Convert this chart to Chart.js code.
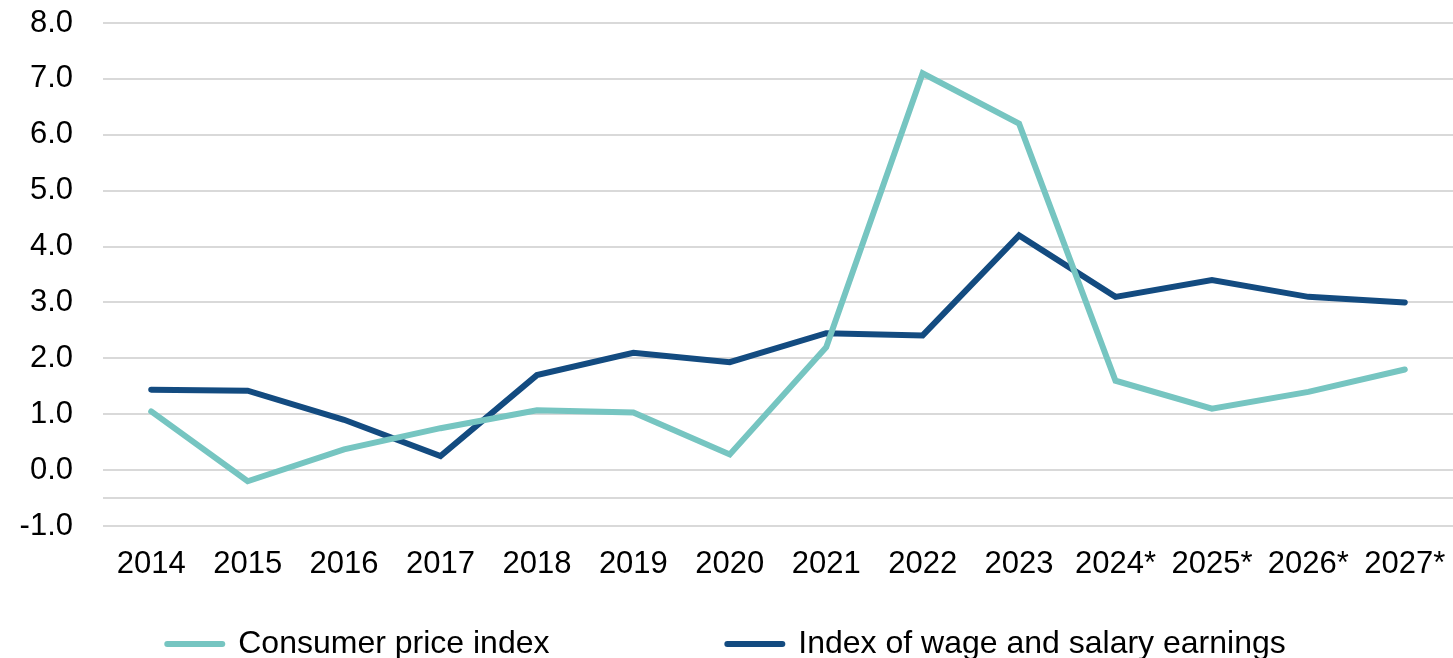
<!DOCTYPE html>
<html>
<head>
<meta charset="utf-8">
<script src="https://cdn.jsdelivr.net/npm/chart.js@4.4.1/dist/chart.umd.min.js"></script>
<style>
  html, body { margin: 0; padding: 0; background: #fff; }
  #wrap { width: 1453px; height: 658px; position: relative; }
</style>
</head>
<body>
<div id="wrap"><canvas id="chart"></canvas></div>
<script>
const years = ["2014", "2015", "2016", "2017", "2018", "2019", "2020", "2021", "2022", "2023", "2024*", "2025*", "2026*", "2027*"];
const cpi = [1.05, -0.2, 0.37, 0.75, 1.07, 1.03, 0.28, 2.2, 7.1, 6.2, 1.6, 1.1, 1.4, 1.8];
const wages = [1.44, 1.42, 0.9, 0.25, 1.7, 2.1, 1.93, 2.45, 2.41, 4.2, 3.1, 3.4, 3.1, 3.0];
const yTicks = [-1, -0.5, 0, 1, 2, 3, 4, 5, 6, 7, 8];

const FONT = "'Liberation Sans', Arial, sans-serif";
// excel-style legend has wide columns, pad first label out with nbsp
const legendGap = "\u00a0".repeat(20);

new Chart(document.getElementById("chart").getContext("2d"), {
  type: "line",
  data: {
    labels: years,
    datasets: [{
      label: "Consumer price index",
      data: cpi,
      borderColor: "#76c5c1",
      backgroundColor: "#76c5c1",
      borderWidth: 6,
      borderCapStyle: "round",
      pointRadius: 0,
      tension: 0,
      fill: false
    }, {
      label: "Index of wage and salary earnings",
      data: wages,
      borderColor: "#134b80",
      backgroundColor: "#134b80",
      borderWidth: 6,
      borderCapStyle: "round",
      pointRadius: 0,
      tension: 0,
      fill: false
    }]
  },
  options: {
    responsive: true,
    maintainAspectRatio: false,
    animation: false,
    layout: { padding: { top: 23, left: 0, right: 0, bottom: -12 } },
    plugins: {
      tooltip: { enabled: false },
      legend: {
        position: "bottom",
        labels: {
          usePointStyle: true,
          pointStyle: "line",
          pointStyleWidth: 55,
          padding: 0,
          color: "#000",
          font: { family: FONT, size: 32 },
          generateLabels: (chart) => {
            const items = Chart.defaults.plugins.legend.labels.generateLabels(chart);
            items.forEach((it, i) => {
              it.pointStyle = "line";
              it.lineCap = "round";
              if (i === 0) it.text = it.text + legendGap;
            });
            return items;
          }
        }
      }
    },
    scales: {
      x: {
        offset: true,
        grid: {
          display: true,
          drawOnChartArea: false,
          drawTicks: true,
          tickLength: 20,
          tickColor: "rgba(0,0,0,0)",
          color: "rgba(0,0,0,0)"
        },
        border: { display: false },
        ticks: {
          color: "#000",
          font: { family: FONT, size: 31 },
          padding: 0,
          maxRotation: 0,
          autoSkip: false
        },
        afterFit: (axis) => { axis.height = 102; }
      },
      y: {
        min: -1,
        max: 8,
        afterBuildTicks: (axis) => {
          axis.ticks = yTicks.map(v => ({ value: v }));
        },
        grid: {
          color: "#d9d9d9",
          lineWidth: 2,
          drawTicks: true,
          tickLength: 30,
          tickColor: "rgba(0,0,0,0)"
        },
        border: { display: false },
        ticks: {
          color: "#000",
          font: { family: FONT, size: 31 },
          padding: 0,
          autoSkip: false,
          callback: (v) => v === -0.5 ? "" : Number(v).toFixed(1)
        },
        afterFit: (axis) => { axis.width = 103; }
      }
    }
  }
});
</script>
</body>
</html>
